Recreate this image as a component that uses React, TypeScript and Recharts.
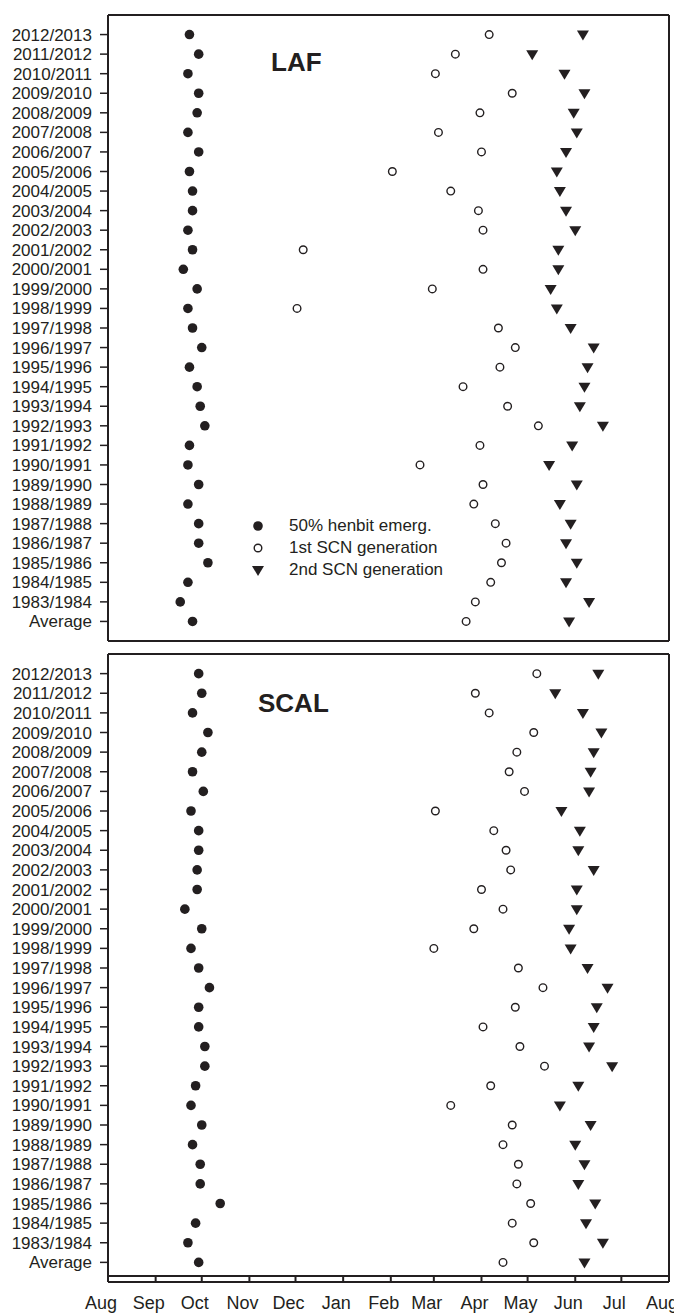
import { ScatterChart, Scatter, XAxis, YAxis, ReferenceLine, Legend } from 'recharts';

const INK = '#231f20';
const FONT = '"Liberation Sans", Arial, Helvetica, sans-serif';

// seasons top to bottom
const seasons = [
  '2012/2013', '2011/2012', '2010/2011', '2009/2010', '2008/2009', '2007/2008',
  '2006/2007', '2005/2006', '2004/2005', '2003/2004', '2002/2003', '2001/2002',
  '2000/2001', '1999/2000', '1998/1999', '1997/1998', '1996/1997', '1995/1996',
  '1994/1995', '1993/1994', '1992/1993', '1991/1992', '1990/1991', '1989/1990',
  '1988/1989', '1987/1988', '1986/1987', '1985/1986', '1984/1985', '1983/1984',
  'Average',
];

// x axis: days after 1 Aug
const monthStarts = [0, 31, 61, 92, 122, 153, 184, 212, 243, 273, 304, 334, 365];
const monthLabels = ['Aug', 'Sep', 'Oct', 'Nov', 'Dec', 'Jan', 'Feb', 'Mar', 'Apr', 'May', 'Jun', 'Jul', 'Aug'];

// LAF
const lafHenbit = [53, 59, 52, 59, 58, 52, 59, 53, 55, 55, 52, 55, 49, 58, 52, 55, 61, 53, 58, 60, 63, 53, 52, 59, 52, 59, 59, 65, 52, 47, 55];
const lafScn1 = [248, 226, 213, 263, 242, 215, 243, 185, 223, 241, 244, 127, 244, 211, 123, 254, 265, 255, 231, 260, 280, 242, 203, 244, 238, 252, 259, 256, 249, 239, 233];
const lafScn2 = [309, 276, 297, 310, 303, 305, 298, 292, 294, 298, 304, 293, 293, 288, 292, 301, 316, 312, 310, 307, 322, 302, 287, 305, 294, 301, 298, 305, 298, 313, 300];

// SCAL
const scalHenbit = [59, 61, 55, 65, 61, 55, 62, 54, 59, 59, 58, 58, 50, 61, 54, 59, 66, 59, 59, 63, 63, 57, 54, 61, 55, 60, 60, 73, 57, 52, 59];
const scalScn1 = [279, 239, 248, 277, 266, 261, 271, 213, 251, 259, 262, 243, 257, 238, 212, 267, 283, 265, 244, 268, 284, 249, 223, 263, 257, 267, 266, 275, 263, 277, 257];
const scalScn2 = [319, 291, 309, 321, 316, 314, 313, 295, 307, 306, 316, 305, 305, 300, 301, 312, 325, 318, 316, 313, 328, 306, 294, 314, 304, 310, 306, 317, 311, 322, 310];

const seriesNames = ['50% henbit emerg.', '1st SCN generation', '2nd SCN generation'];

const toPoints = (vals: number[]) => vals.map((v, i) => ({ x: v, y: i }));
const rowTicks = seasons.map((_, i) => i);

const FilledDot = (p: any) => <circle cx={p.cx} cy={p.cy} r={4.8} fill={INK} />;
const OpenDot = (p: any) => (
  <circle cx={p.cx} cy={p.cy} r={3.8} fill="#fff" stroke={INK} strokeWidth={1.4} />
);
const DownTri = (p: any) => (
  <polygon
    points={`${p.cx - 6},${p.cy - 4} ${p.cx + 6},${p.cy - 4} ${p.cx},${p.cy + 6}`}
    fill={INK}
  />
);
const shapes = [FilledDot, OpenDot, DownTri];

function MonthTick({ x, y, payload }: any) {
  const label = monthLabels[monthStarts.indexOf(payload.value)];
  return (
    <g>
      <line x1={x} x2={x} y1={y} y2={y - 6} stroke={INK} strokeWidth={2} />
      <text x={x - 7} y={y + 27} textAnchor="middle" fontSize={18} fill={INK}>
        {label}
      </text>
    </g>
  );
}

function LegendBox() {
  return (
    <div style={{ fontFamily: FONT, fontSize: 17, color: INK }}>
      {seriesNames.map((name, i) => {
        const Shape = shapes[i];
        return (
          <div key={name} style={{ display: 'flex', alignItems: 'center', height: 22 }}>
            <svg width={20} height={22} style={{ marginRight: 21 }}>
              <Shape cx={10} cy={11} />
            </svg>
            <span>{name}</span>
          </div>
        );
      })}
    </div>
  );
}

interface PanelProps {
  title: string;
  henbit: number[];
  scn1: number[];
  scn2: number[];
  withAxis: boolean;
  withLegend: boolean;
  height: number;
  top: number;
}

function Panel({ title, henbit, scn1, scn2, withAxis, withLegend, height, top }: PanelProps) {
  const series = [henbit, scn1, scn2];
  return (
    <div style={{ position: 'absolute', left: 0, top, width: 674, height }}>
      <ScatterChart
        width={674}
        height={height}
        margin={{ top: withAxis ? 14 : 15, right: 5, bottom: withAxis ? 0 : 19, left: 0 }}
      >
        <XAxis
          type="number"
          dataKey="x"
          domain={[0, 365]}
          ticks={monthStarts}
          interval={0}
          hide={!withAxis}
          height={31}
          tickSize={0}
          tickMargin={0}
          tickLine={false}
          axisLine={{ stroke: INK, strokeWidth: 2 }}
          tick={<MonthTick />}
        />
        <YAxis
          type="number"
          dataKey="y"
          domain={[-1, 31]}
          reversed
          ticks={rowTicks}
          interval={0}
          width={108}
          tickSize={8}
          tickMargin={8}
          tickFormatter={(v: number) => seasons[v]}
          tick={{ fill: INK, fontSize: 17 }}
          tickLine={{ stroke: INK, strokeWidth: 1.5 }}
          axisLine={{ stroke: INK, strokeWidth: 2 }}
        />
        <ReferenceLine y={-1} stroke={INK} strokeWidth={2} />
        <ReferenceLine x={365} stroke={INK} strokeWidth={2} />
        <ReferenceLine y={withAxis ? 30.69 : 31} stroke={INK} strokeWidth={2} />
        {series.map((vals, i) => (
          <Scatter
            key={seriesNames[i]}
            name={seriesNames[i]}
            data={toPoints(vals)}
            fill={INK}
            shape={shapes[i]}
            isAnimationActive={false}
          />
        ))}
        {withLegend && (
          <Legend
            layout="vertical"
            align="center"
            verticalAlign="middle"
            wrapperStyle={{ left: 248, top: 515, width: 240 }}
            content={<LegendBox />}
          />
        )}
      </ScatterChart>
      <div
        style={{
          position: 'absolute',
          left: title === 'LAF' ? 271 : 258,
          top: title === 'LAF' ? 49 : 50,
          fontFamily: FONT,
          fontWeight: 'bold',
          fontSize: 26,
          lineHeight: '26px',
          color: INK,
        }}
      >
        {title}
      </div>
    </div>
  );
}

export default function App() {
  return (
    <div style={{ position: 'absolute', left: 0, top: 0, width: 674, height: 1313, background: '#fff', fontFamily: FONT, overflow: 'hidden' }}>
      <Panel title="LAF" henbit={lafHenbit} scn1={lafScn1} scn2={lafScn2} withAxis={false} withLegend height={660} top={0} />
      <Panel title="SCAL" henbit={scalHenbit} scn1={scalScn1} scn2={scalScn2} withAxis withLegend={false} height={673} top={640} />
    </div>
  );
}
